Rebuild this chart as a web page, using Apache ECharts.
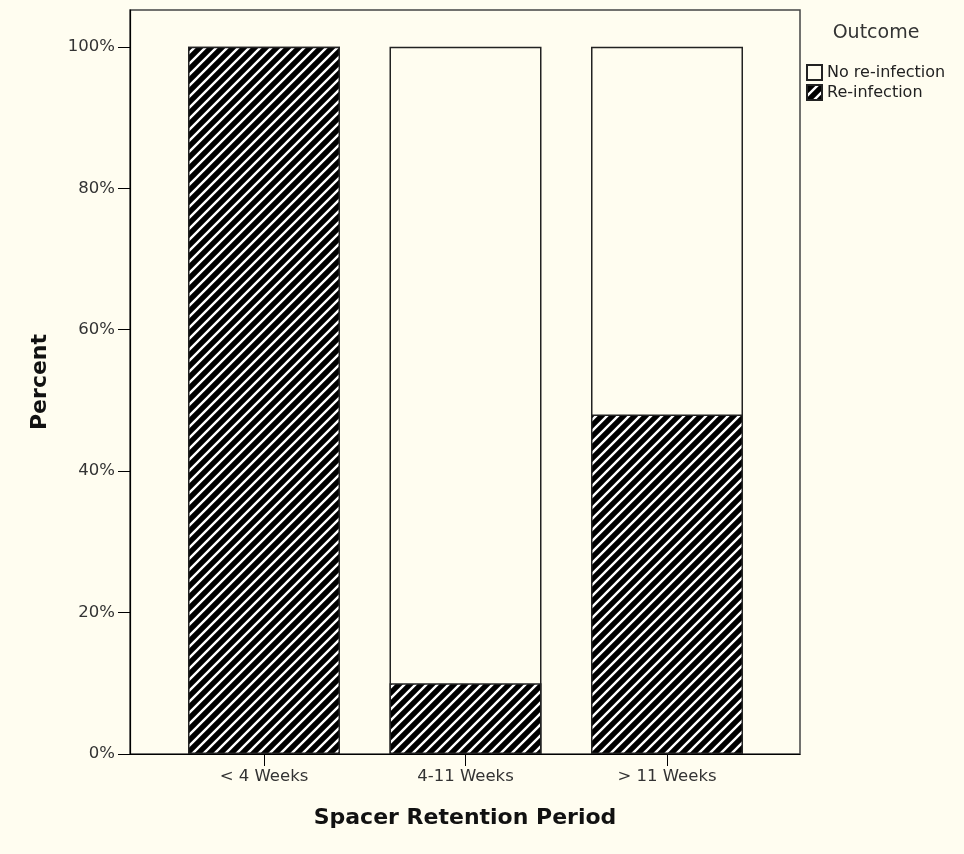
<!DOCTYPE html>
<html>
<head>
<meta charset="utf-8">
<script src="https://cdn.jsdelivr.net/npm/echarts@6/dist/echarts.min.js"></script>
<style>
html,body{margin:0;padding:0;background:#FFFDF0;}
#c{width:964px;height:854px;}
</style>
</head>
<body>
<div id="c"></div>
<script>
var categories = ['< 4 Weeks', '4-11 Weeks', '> 11 Weeks'];
var reInfection = [100, 10, 48];
var noReInfection = [0, 90, 52];
var yTicks = [0, 20, 40, 60, 80, 100];
var seriesNames = ['No re-infection', 'Re-infection'];

function hatch() {
  var s = 11;
  var cv = document.createElement('canvas');
  cv.width = s; cv.height = s;
  var g = cv.getContext('2d');
  g.fillStyle = '#000';
  g.fillRect(0, 0, s, s);
  g.strokeStyle = '#fff';
  g.lineWidth = 2.4;
  g.beginPath();
  g.moveTo(-s/2, s/2); g.lineTo(s/2, -s/2);
  g.moveTo(0, s); g.lineTo(s, 0);
  g.moveTo(s/2, s*1.5); g.lineTo(s*1.5, s/2);
  g.stroke();
  return cv;
}

var totals = reInfection.map(function (v, i) { return v + noReInfection[i]; });
var whiteData = totals.map(function (v, i) { return [i, v]; });
var hatchData = reInfection.map(function (v, i) { return [i, v]; });

var chart = echarts.init(document.getElementById('c'));
var font = 'DejaVu Sans';
chart.setOption({
  backgroundColor: '#FFFDF0',
  animation: false,
  grid: { left: 130, right: 164, top: 10, bottom: 100, show: true, borderColor: '#444', borderWidth: 1.5, backgroundColor: 'transparent' },
  xAxis: {
    type: 'value', min: -0.665, max: 2.66,
    name: 'Spacer Retention Period', nameLocation: 'middle', nameGap: 53,
    nameTextStyle: { fontFamily: font, fontWeight: 'bold', fontSize: 22, color: '#111' },
    axisLine: { show: true, onZero: false, lineStyle: { color: '#000', width: 1.2 } },
    axisTick: { show: true, customValues: [0, 1, 2], length: 12, lineStyle: { color: '#000' } },
    axisLabel: { customValues: [0, 1, 2], margin: 14, fontFamily: font, fontSize: 16.5, color: '#333',
      formatter: function (v) { return categories[Math.round(v)]; } },
    splitLine: { show: false }
  },
  yAxis: {
    type: 'value', min: 0, max: 105.2,
    name: 'Percent', nameLocation: 'middle', nameGap: 79, nameRotate: 90,
    nameTextStyle: { fontFamily: font, fontWeight: 'bold', fontSize: 22, color: '#111' },
    axisLine: { show: true, onZero: false, lineStyle: { color: '#000', width: 1.2 } },
    axisTick: { show: true, customValues: yTicks, length: 12, lineStyle: { color: '#000' } },
    axisLabel: { customValues: yTicks, margin: 15, fontFamily: font, fontSize: 16.5, color: '#333',
      formatter: function (v) { return v + '%'; } },
    splitLine: { show: false }
  },
  legend: {
    orient: 'vertical', left: 801, top: 59, itemWidth: 15, itemHeight: 15, itemGap: 3,
    icon: 'rect', data: seriesNames,
    textStyle: { fontFamily: font, fontSize: 16, color: '#222' }
  },
  graphic: [{
    type: 'text', x: 876, y: 33,
    style: { text: 'Outcome', fontFamily: font, fontSize: 19, fill: '#333', align: 'center', verticalAlign: 'middle' }
  }],
  series: [
    { name: seriesNames[0], type: 'bar', data: whiteData, barWidth: 152, barGap: '-100%',
      itemStyle: { color: '#FFFDF0', borderColor: '#222', borderWidth: 1.5 } },
    { name: seriesNames[1], type: 'bar', data: hatchData, barWidth: 152, barGap: '-100%',
      itemStyle: { color: { image: hatch(), repeat: 'repeat' }, borderColor: '#222', borderWidth: 1.5 } }
  ]
});
</script>
</body>
</html>
